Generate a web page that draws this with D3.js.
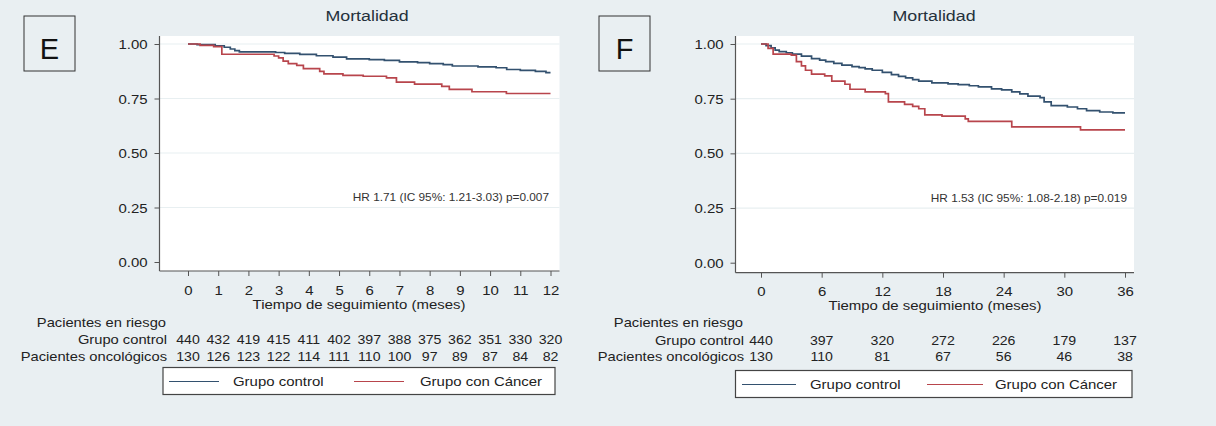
<!DOCTYPE html>
<html><head><meta charset="utf-8">
<script src="https://cdn.jsdelivr.net/npm/d3@7"></script>
<style>
html,body{margin:0;padding:0;background:#e9eff2;}
svg{display:block;}
text{font-family:"Liberation Sans",Arial,sans-serif;}
</style></head><body>
<svg id="chart" width="1216" height="426"></svg>
<script>
// ---------- data ----------
const yTicks = [0, 0.25, 0.5, 0.75, 1];
const eMonths = [0,1,2,3,4,5,6,7,8,9,10,11,12];
const eRiskControl = [440,432,419,415,411,402,397,388,375,362,351,330,320];
const eRiskCancer  = [130,126,123,122,114,111,110,100,97,89,87,84,82];
const fMonths = [0,6,12,18,24,30,36];
const fRiskControl = [440,397,320,272,226,179,137];
const fRiskCancer  = [130,110,81,67,56,46,38];

// Kaplan-Meier steps, panel E (12 months)
const eControlTime = [0,0.3,0.9,1.2,1.4,1.55,1.7,2.9,3.2,3.7,4.25,4.8,5.25,6.0,6.5,7.0,7.6,8.0,8.45,8.75,9.6,10.2,10.55,11.0,11.5,11.85];
const eControlSurv = [1,0.997,0.992,0.985,0.977,0.970,0.964,0.961,0.957,0.952,0.946,0.940,0.932,0.928,0.925,0.918,0.915,0.910,0.905,0.899,0.895,0.891,0.883,0.879,0.874,0.869];
const eCancerTime = [0,0.4,0.85,1.12,2.85,3.0,3.15,3.32,3.6,3.82,4.36,4.5,5.13,5.8,6.57,6.9,7.5,8.4,8.65,9.4,10.54];
const eCancerSurv = [1,0.994,0.988,0.953,0.945,0.936,0.921,0.910,0.902,0.887,0.874,0.863,0.856,0.852,0.845,0.825,0.816,0.806,0.792,0.781,0.773];

// Kaplan-Meier steps, panel F (36 months)
const fControlTime = [0,0.5,1.0,1.4,1.8,2.5,3.1,4.0,5.0,5.8,6.4,7.2,8.0,9.0,9.7,10.3,11.0,12.0,12.9,13.6,14.3,15.0,15.6,16.9,18.5,19.5,20.6,21.5,22.8,23.8,24.8,25.6,26.4,27.6,28.0,28.7,30.3,31.3,32.2,33.5,34.8];
const fControlSurv = [1,0.993,0.982,0.972,0.965,0.960,0.954,0.945,0.933,0.926,0.919,0.911,0.903,0.897,0.892,0.886,0.880,0.870,0.860,0.852,0.845,0.837,0.830,0.822,0.818,0.814,0.809,0.804,0.795,0.790,0.781,0.772,0.762,0.755,0.735,0.718,0.712,0.704,0.695,0.689,0.685];
const fCancerTime = [0,0.7,1.2,3.0,3.5,4.0,4.4,5.0,6.3,7.0,8.3,8.8,10.3,12.3,12.6,14.2,15.0,15.6,16.2,17.9,20.2,20.5,24.8,31.6];
const fCancerSurv = [1,0.980,0.954,0.949,0.919,0.900,0.880,0.862,0.854,0.830,0.816,0.793,0.781,0.773,0.735,0.724,0.715,0.704,0.676,0.670,0.658,0.646,0.621,0.607];

const seriesNames = ["Grupo control", "Grupo con Cáncer"];
const rowNames = ["Grupo control", "Pacientes oncológicos"];

// ---------- drawing ----------
const SX = 1.15;
const FONT = '"Liberation Sans",Arial,sans-serif';
const svg = d3.select("#chart");
svg.append("rect").attr("width",1216).attr("height",426).attr("fill","#e9eff2");

function label(g, x, y, str, o = {}) {
  return g.append("text")
    .attr("transform", `translate(${x},${y}) scale(${o.sx ?? SX},1)`)
    .attr("text-anchor", o.anchor || "middle")
    .attr("dy", "0.35em")
    .attr("font-size", o.size || 12)
    .attr("fill", o.fill || "#222")
    .text(str);
}

function panel(c) {
  const g = svg.append("g");
  const x = d3.scaleLinear().domain([0, c.maxT]).range([c.x0, c.x1]);
  const y = d3.scaleLinear().domain([0, 1]).range([c.yb, c.yt]);

  // letter box
  g.append("rect").attr("x", c.box).attr("y", 16).attr("width", 51).attr("height", 55)
    .attr("fill", "none").attr("stroke", "#333").attr("stroke-width", 1);
  g.append("text").attr("x", c.box + 25.5).attr("y", 59).attr("text-anchor", "middle")
    .attr("font-size", 29).attr("fill", "#111").text(c.letter);

  // title
  label(g, c.titleX, 16, "Mortalidad", {size: 15.5, fill: "#25313c"});

  // plot region
  g.append("rect").attr("x", c.left).attr("y", 36).attr("width", c.right - c.left)
    .attr("height", c.bottom - 36).attr("fill", "#fff");
  g.selectAll("line.grid").data(yTicks.filter(v => v > 0)).join("line")
    .attr("class", "grid").attr("x1", c.left).attr("x2", c.right)
    .attr("y1", d => y(d)).attr("y2", d => y(d))
    .attr("stroke", "#e8eff1").attr("stroke-width", 1.2);

  // y axis
  const ya = g.append("g").attr("transform", `translate(${c.left},0)`)
    .call(d3.axisLeft(y).tickValues(yTicks).tickFormat(d3.format(".2f")).tickSize(5).tickSizeOuter(0));
  ya.select(".domain").remove();
  ya.selectAll(".tick line").attr("stroke", "#555");
  ya.selectAll(".tick text").attr("x", -12 / SX).attr("dy", "0.35em")
    .attr("transform", `scale(${SX},1)`).attr("font-size", 13).attr("fill", "#222")
    .attr("font-family", FONT);
  g.append("line").attr("x1", c.left).attr("x2", c.left).attr("y1", 36).attr("y2", c.bottom)
    .attr("stroke", "#555").attr("stroke-width", 1.2);

  // x axis
  const xa = g.append("g").attr("transform", `translate(0,${c.bottom})`)
    .call(d3.axisBottom(x).tickValues(c.months).tickFormat(d3.format("d")).tickSize(5).tickSizeOuter(0));
  xa.select(".domain").remove();
  xa.selectAll(".tick line").attr("stroke", "#555");
  xa.selectAll(".tick text").attr("y", c.tickLabelY - c.bottom).attr("dy", "0.35em")
    .attr("transform", `scale(${SX},1)`).attr("font-size", 13).attr("fill", "#222")
    .attr("font-family", FONT);
  g.append("line").attr("x1", c.left).attr("x2", c.right).attr("y1", c.bottom).attr("y2", c.bottom)
    .attr("stroke", "#555").attr("stroke-width", 1.2);
  label(g, c.axisTitleX, c.axisTitleY, "Tiempo de seguimiento (meses)", {size: 13});

  // curves
  const line = d3.line().x(d => x(d[0])).y(d => y(d[1])).curve(d3.curveStepAfter);
  c.series.forEach(s => {
    const pts = s.t.map((t, i) => [t, s.s[i]]).concat([[c.maxT, s.s[s.s.length - 1]]]);
    g.append("path").attr("d", line(pts)).attr("fill", "none")
      .attr("stroke", s.color).attr("stroke-width", 1.7).attr("stroke-linejoin", "miter");
  });

  // HR annotation
  label(g, c.hrX, c.hrY, c.hr, {anchor: "end", size: 10.3, fill: "#333"});

  // risk table
  label(g, c.rowLabelX - 1, 323, "Pacientes en riesgo", {anchor: "end", size: 12.8});
  label(g, c.rowLabelX, c.rowY[0], rowNames[0], {anchor: "end", size: 12.8});
  label(g, c.rowLabelX, c.rowY[1], rowNames[1], {anchor: "end", size: 12.8});
  c.rows.forEach((r, ri) => {
    g.selectAll(null).data(r).join("text")
      .attr("transform", (d, i) => `translate(${x(c.months[i])},${c.rowY[ri]}) scale(${SX},1)`)
      .attr("text-anchor", "middle").attr("dy", "0.35em").attr("font-size", 12.3).attr("fill", "#222")
      .text(d => d);
  });

  // legend
  const L = c.legend;
  g.append("rect").attr("x", L.x).attr("y", L.y).attr("width", L.w).attr("height", 27)
    .attr("fill", "#fff").attr("stroke", "#444").attr("stroke-width", 1.2);
  const ly = L.y + 14;
  g.append("line").attr("x1", L.items[0][0]).attr("x2", L.items[0][1]).attr("y1", ly).attr("y2", ly)
    .attr("stroke", c.series[0].color).attr("stroke-width", 1);
  label(g, L.items[0][2], ly, seriesNames[0], {anchor: "start", size: 13});
  g.append("line").attr("x1", L.items[1][0]).attr("x2", L.items[1][1]).attr("y1", ly).attr("y2", ly)
    .attr("stroke", c.series[1].color).attr("stroke-width", 1);
  label(g, L.items[1][2], ly, seriesNames[1], {anchor: "start", size: 13});
}

const BLUE = "#33516f", RED = "#b8454c";

panel({
  letter: "E", box: 24, titleX: 367,
  left: 159.5, right: 559.5, bottom: 271, maxT: 12,
  x0: 188, x1: 550.5, yb: 262, yt: 44,
  months: eMonths, tickLabelY: 290, axisTitleX: 359, axisTitleY: 304,
  series: [{t: eControlTime, s: eControlSurv, color: BLUE}, {t: eCancerTime, s: eCancerSurv, color: RED}],
  hr: "HR 1.71 (IC 95%: 1.21-3.03) p=0.007", hrX: 549, hrY: 197,
  rowLabelX: 167, rowY: [340, 356.5], rows: [eRiskControl, eRiskCancer],
  legend: {x: 163, y: 367.5, w: 392, items: [[169, 219, 233], [354, 404, 420]]}
});

panel({
  letter: "F", box: 599, titleX: 934,
  left: 735.5, right: 1134, bottom: 272.7, maxT: 36,
  x0: 761, x1: 1125, yb: 262.7, yt: 44,
  months: fMonths, tickLabelY: 291.5, axisTitleX: 935, axisTitleY: 305,
  series: [{t: fControlTime, s: fControlSurv, color: BLUE}, {t: fCancerTime, s: fCancerSurv, color: RED}],
  hr: "HR 1.53 (IC 95%: 1.08-2.18) p=0.019", hrX: 1127, hrY: 198,
  rowLabelX: 744, rowY: [340.5, 357], rows: [fRiskControl, fRiskCancer],
  legend: {x: 735.5, y: 370.5, w: 396.5, items: [[742, 796, 810], [927, 983, 995]]}
});
</script>
</body></html>
